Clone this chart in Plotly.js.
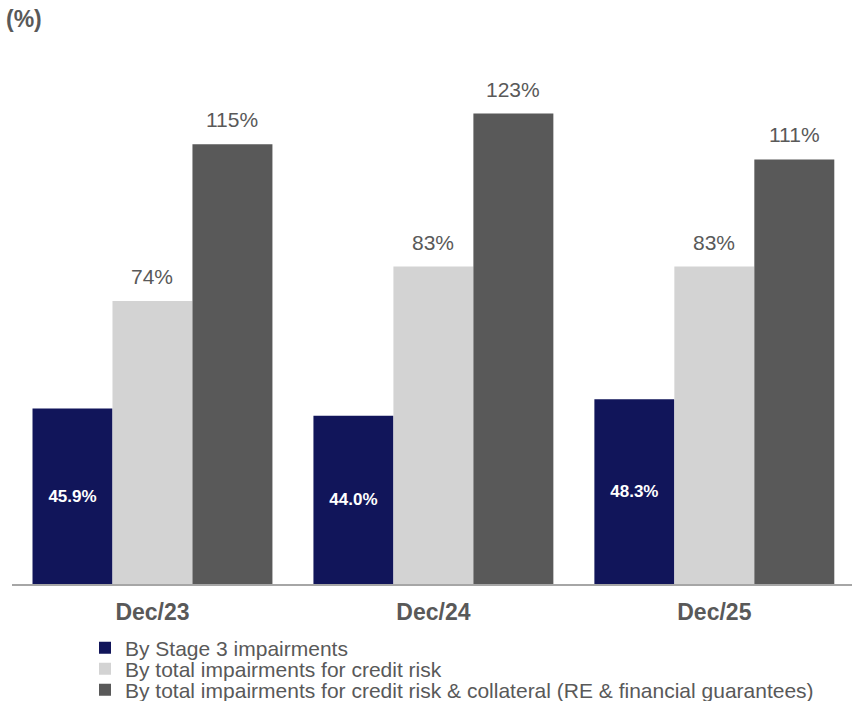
<!DOCTYPE html>
<html>
<head>
<meta charset="utf-8">
<script src="https://cdn.plot.ly/plotly-3.0.1.min.js"></script>
<style>html,body{margin:0;padding:0;background:#fff;}#chart{width:852px;height:701px;}</style>
</head>
<body>
<div id="chart"></div>
<script>
const categories = ['Dec/23', 'Dec/24', 'Dec/25'];
const stage3 = [45.9, 44.0, 48.3];
const totalCredit = [74, 83, 83];
const totalCollateral = [115, 123, 111];
const seriesNames = [
  'By Stage 3 impairments',
  'By total impairments for credit risk',
  'By total impairments for credit risk & collateral (RE & financial guarantees)'
];
const colors = ['#11155a', '#d3d3d3', '#595959'];
const FONT = 'Liberation Sans, Arial, sans-serif';
const bargap = 0.146;

const traces = [
  {
    type: 'bar', name: seriesNames[0], x: categories, y: stage3,
    marker: {color: colors[0]}, legend: 'legend',
    text: stage3.map(v => v.toFixed(1) + '%'),
    textposition: 'inside', insidetextanchor: 'middle',
    textfont: {family: FONT, size: 17, color: '#ffffff', weight: 'bold'},
    hoverinfo: 'none'
  },
  {
    type: 'bar', name: seriesNames[1], x: categories, y: totalCredit,
    marker: {color: colors[1]}, legend: 'legend2', hoverinfo: 'none'
  },
  {
    type: 'bar', name: seriesNames[2], x: categories, y: totalCollateral,
    marker: {color: colors[2]}, legend: 'legend3', hoverinfo: 'none'
  }
];

// value labels above the light and dark bars
const w = (1 - bargap) / 3;
const annotations = [];
[[totalCredit, 0], [totalCollateral, 1]].forEach(([arr, k]) => {
  arr.forEach((v, i) => {
    annotations.push({
      xref: 'x', yref: 'y', x: i + k * w, y: v,
      text: Math.round(v) + '%', showarrow: false,
      yanchor: 'bottom', yshift: 11,
      font: {family: FONT, size: 21, color: '#595959'}
    });
  });
});

const plotTop = 60, plotBottom = 584, plotH = plotBottom - plotTop;
function legendAt(rowCenterPx) {
  return {
    orientation: 'v', x: (85 - 12) / 840, xanchor: 'left',
    y: (plotBottom - rowCenterPx) / plotH, yanchor: 'middle',
    font: {family: FONT, size: 21, color: '#595959'},
    bgcolor: 'rgba(0,0,0,0)', borderwidth: 0
  };
}

const layout = {
  width: 852, height: 701,
  margin: {l: 12, r: 0, t: plotTop, b: 701 - plotBottom, autoexpand: false},
  paper_bgcolor: '#ffffff', plot_bgcolor: '#ffffff',
  font: {family: FONT, color: '#595959'},
  title: {
    text: '<b>(%)</b>', font: {family: FONT, size: 23, color: '#595959'},
    x: 6 / 852, xanchor: 'left', xref: 'container',
    y: 1 - 19 / 701, yanchor: 'middle', yref: 'container'
  },
  barmode: 'group', bargap: bargap, bargroupgap: 0,
  xaxis: {
    type: 'category', range: [-0.5, 2.49],
    showline: true, linecolor: '#a6a6a6', linewidth: 2,
    ticks: '', showgrid: false, zeroline: false,
    ticklabelstandoff: 6,
    tickfont: {family: FONT, size: 23, color: '#595959', weight: 'bold'},
    fixedrange: true
  },
  yaxis: {
    range: [0, 137], visible: false, showgrid: false, zeroline: false, fixedrange: true
  },
  showlegend: true,
  legend: legendAt(648),
  legend2: legendAt(669),
  legend3: legendAt(690),
  annotations: annotations
};

Plotly.newPlot('chart', traces, layout, {displayModeBar: false, staticPlot: true});
</script>
</body>
</html>
